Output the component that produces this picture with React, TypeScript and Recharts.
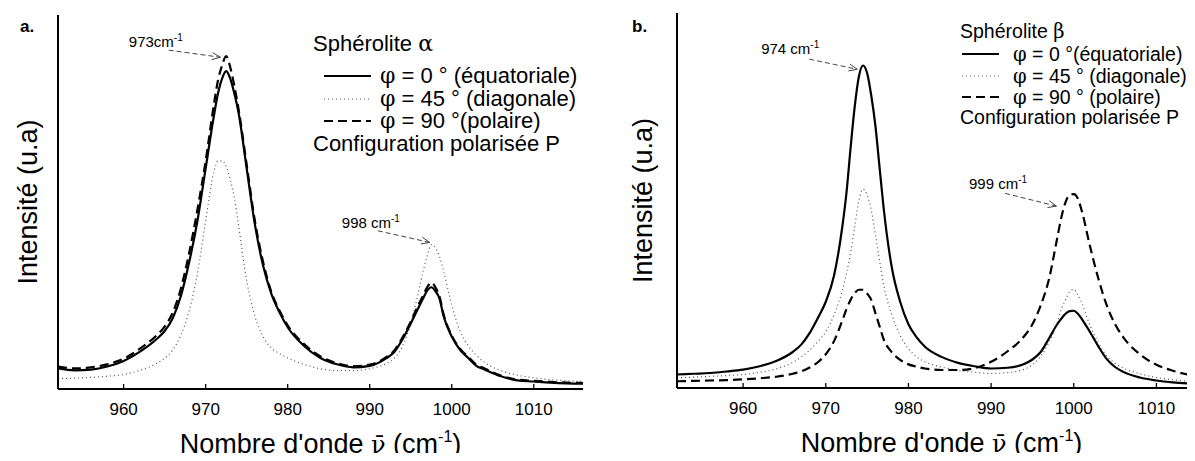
import React from 'react';
import { LineChart, Line, XAxis, YAxis, ReferenceLine } from 'recharts';

// tick values shared by both panels
const ticks = [960, 970, 980, 990, 1000, 1010];

// panel a: spherulite alpha (wavenumber, intensity as % of plot height)
const xAlpha = [952, 954, 956, 958, 960, 962, 964, 965, 966, 967, 968, 969, 970, 971, 971.5, 972, 972.5, 973, 973.5, 974, 975, 976, 977, 978, 979, 980, 982, 984, 986, 988, 990, 992, 993, 994, 995, 996, 996.5, 997, 997.5, 998, 998.5, 999, 1000, 1001, 1002, 1003, 1004, 1006, 1008, 1010, 1012, 1014, 1016];
const alpha0 = [5.5, 5.0, 5.2, 6.0, 7.5, 10.0, 13.3, 15.5, 19, 25, 34, 45, 59, 73, 79, 83, 85, 83, 79, 74, 59, 44, 33, 25.5, 20.5, 16.5, 11.5, 8.3, 6.6, 5.8, 6.2, 8.2, 9.9, 13.3, 17.5, 22, 24.2, 26.3, 27.2, 26.2, 24.2, 19.5, 14, 10.5, 8.3, 6.2, 5.2, 3.4, 2.3, 2.0, 1.7, 1.5, 1.4];
const alpha45 = [2.8, 2.9, 3.1, 3.4, 3.9, 5.0, 6.8, 8.2, 10.5, 14.5, 21, 31, 45, 58, 61, 61, 59.5, 56, 51, 44, 29, 19.5, 14, 11, 9.5, 8.3, 6.6, 5.4, 4.9, 4.9, 5.4, 6.8, 8.2, 11.5, 17.5, 26.5, 31.5, 35.5, 38.6, 37.8, 35.5, 31.5, 22.5, 15.5, 11.6, 9.0, 7.1, 4.9, 3.7, 3.0, 2.5, 2.2, 2.0];
const alpha90 = [6.0, 5.5, 5.8, 6.6, 8.1, 10.8, 14.3, 16.7, 20.5, 27, 36.5, 48, 61, 76, 82.5, 86.5, 89, 86, 81, 75, 60, 45, 34, 26, 21, 17, 12, 8.7, 6.9, 6.1, 6.5, 8.5, 10.3, 13.8, 18, 22.8, 25, 27.2, 28.5, 27.2, 24.8, 20, 14.3, 10.8, 8.6, 6.5, 5.5, 3.6, 2.5, 2.2, 1.9, 1.7, 1.6];

// panel b: spherulite beta
const xBeta = [952, 954, 956, 958, 960, 962, 964, 966, 967, 968, 969, 970, 971, 972, 972.5, 973, 973.5, 974, 974.5, 975, 975.5, 976, 976.5, 977, 978, 979, 980, 981, 982, 984, 986, 988, 990, 992, 994, 995, 996, 997, 998, 998.5, 999, 999.5, 1000, 1000.5, 1001, 1002, 1003, 1004, 1005, 1006, 1008, 1010, 1012, 1014, 1016];
const beta0 = [3.6, 3.8, 4.0, 4.4, 4.9, 5.8, 7.2, 9.6, 11.5, 14.5, 18.5, 23, 30, 43, 52, 64, 75, 83, 86, 84, 78, 70, 59, 48, 32, 23, 17, 13.5, 11, 8.3, 6.7, 5.8, 5.2, 5.4, 6.4, 7.6, 9.6, 13.2, 17, 18.5, 19.8, 20.5, 20.6, 19.8, 18.3, 14.8, 11, 7.7, 5.6, 4.3, 2.8, 2.0, 1.5, 1.2, 1.0];
const beta45 = [2.7, 2.9, 3.1, 3.3, 3.6, 4.2, 5.1, 6.8, 8.2, 10, 12.3, 15, 19.5, 26, 30.5, 36, 43, 50, 53, 51.5, 47.5, 41, 34, 27.5, 19.5, 14, 10.5, 8.3, 7, 5.6, 4.7, 4.2, 3.9, 4.1, 5.0, 6.2, 8.5, 12.2, 17.5, 21, 23.5, 25.6, 26.3, 24.8, 22.5, 16.5, 12, 8.5, 6.6, 5.3, 3.8, 2.8, 2.2, 1.8, 1.5];
const beta90 = [1.8, 1.9, 2.0, 2.1, 2.3, 2.6, 3.0, 3.8, 4.4, 5.4, 6.8, 9.0, 12.5, 18, 21, 23.5, 25.3, 26.2, 26.2, 25.2, 23.5, 20, 16.5, 13, 9.5, 7.5, 6.3, 5.7, 5.2, 4.8, 4.8, 5.3, 7.0, 9.8, 13.8, 17, 22, 29, 40, 45.5, 49.5, 51.5, 51.7, 50.5, 47, 37.5, 29, 22, 17, 13.5, 9, 6.2, 4.6, 3.5, 2.8];

const FONT = 'Arial, "Liberation Sans", Helvetica, sans-serif';
const greek = "'DejaVu Serif', 'Liberation Serif', serif";

const toRows = (xs: number[], s0: number[], s45: number[], s90: number[]) =>
  xs.map((x, i) => ({ x, s0: s0[i], s45: s45[i], s90: s90[i] }));

const alphaRows = toRows(xAlpha, alpha0, alpha45, alpha90);
const betaRows = toRows(xBeta, beta0, beta45, beta90);

const BottomTick = (props: any) => {
  const { x, y, payload } = props;
  return (
    <g>
      <line x1={x} y1={y} x2={x} y2={y - 5} stroke="#000" strokeWidth={1.3} />
      <text x={x} y={y + 26} textAnchor="middle" fontSize={17} fontFamily={FONT} fill="#000">
        {payload.value}
      </text>
    </g>
  );
};

const TopTick = (props: any) => (
  <line x1={props.x} y1={props.y} x2={props.x} y2={props.y + 5} stroke="#000" strokeWidth={1.3} />
);

const yTitle = (dx: number) => (props: any) => {
  const vb = props.viewBox;
  const cx = vb.x + vb.width / 2 + dx;
  const cy = vb.y + vb.height / 2;
  return (
    <text x={cx} y={cy} transform={`rotate(-90 ${cx} ${cy})`} textAnchor="middle" dominantBaseline="central"
      fontSize={27} fontFamily={FONT} fill="#000">
      Intensité (u.a)
    </text>
  );
};

const xTitle = (props: any) => {
  const vb = props.viewBox;
  const cx = vb.x + vb.width / 2;
  const by = vb.y + 64;
  return (
    <text x={cx} y={by} textAnchor="middle" fontSize={27} fontFamily={FONT} fill="#000">
      Nombre d'onde <tspan fontFamily={greek} fontSize={24}>ν̄</tspan> (cm
      <tspan dy={-11} fontSize={16}>-1</tspan>
      <tspan dy={11}>)</tspan>
    </text>
  );
};

// dashed arrow with its wavenumber label
const peakNote = (label: string, dxEnd: number, dyUp: number) => (props: any) => {
  const { x1, y1, x2, y2 } = props;
  const ang = Math.atan2(y2 - y1, x2 - x1);
  const len = 9;
  const spread = 0.4;
  const ax = x2 - len * Math.cos(ang - spread);
  const ay = y2 - len * Math.sin(ang - spread);
  const bx = x2 - len * Math.cos(ang + spread);
  const by = y2 - len * Math.sin(ang + spread);
  return (
    <g>
      <line x1={x1} y1={y1} x2={x2} y2={y2} stroke="#444" strokeWidth={1} strokeDasharray="5 3" />
      <polyline points={`${ax},${ay} ${x2},${y2} ${bx},${by}`} fill="none" stroke="#444" strokeWidth={1} />
      <text x={x1 + dxEnd} y={y1 - dyUp} textAnchor="end" fontSize={15} fontFamily={FONT} fill="#000">
        {label}
        <tspan dy={-6} fontSize={10}>-1</tspan>
      </text>
    </g>
  );
};

interface Note {
  from: { x: number; y: number };
  to: { x: number; y: number };
  label: string;
  dxEnd: number;
  dyUp: number;
}

interface PanelProps {
  rows: { x: number; s0: number; s45: number; s90: number }[];
  width: number;
  margin: { top: number; right: number; bottom: number; left: number };
  yAxisWidth: number;
  xAxisHeight: number;
  yTitleDx: number;
  notes: Note[];
}

const Panel: React.FC<PanelProps> = ({ rows, width, margin, yAxisWidth, xAxisHeight, yTitleDx, notes }) => (
  <LineChart width={width} height={461} data={rows} margin={margin}>
    <XAxis xAxisId="bx" dataKey="x" type="number" domain={[952, 1016]} ticks={ticks} interval={0}
      allowDataOverflow height={xAxisHeight} tickSize={0} tickMargin={0} tickLine={false}
      axisLine={{ stroke: '#000', strokeWidth: 2 }} tick={<BottomTick />} label={xTitle} />
    <XAxis xAxisId="tx" dataKey="x" type="number" orientation="top" domain={[952, 1016]} ticks={ticks}
      interval={0} allowDataOverflow height={0} tickSize={0} tickMargin={0} tickLine={false}
      axisLine={{ stroke: '#000', strokeWidth: 2 }} tick={<TopTick />} />
    <YAxis yAxisId="ly" type="number" domain={[0, 100]} width={yAxisWidth} tick={false} tickLine={false}
      axisLine={{ stroke: '#000', strokeWidth: 2 }} label={yTitle(yTitleDx)} />
    <YAxis yAxisId="ry" orientation="right" type="number" domain={[0, 100]} width={0} tick={false}
      tickLine={false} axisLine={{ stroke: '#000', strokeWidth: 2 }} />
    <Line xAxisId="bx" yAxisId="ly" type="monotone" dataKey="s45" stroke="#555" strokeWidth={1.2}
      strokeDasharray="1 3" dot={false} isAnimationActive={false} />
    <Line xAxisId="bx" yAxisId="ly" type="monotone" dataKey="s0" stroke="#000" strokeWidth={2.2}
      dot={false} isAnimationActive={false} />
    <Line xAxisId="bx" yAxisId="ly" type="monotone" dataKey="s90" stroke="#000" strokeWidth={2.2}
      strokeDasharray="9 5" dot={false} isAnimationActive={false} />
    {notes.map((n) => (
      <ReferenceLine key={n.label} xAxisId="bx" yAxisId="ly" segment={[n.from, n.to]}
        shape={peakNote(n.label, n.dxEnd, n.dyUp)} />
    ))}
  </LineChart>
);

const notesAlpha: Note[] = [
  { from: { x: 965.5, y: 90.6 }, to: { x: 971.8, y: 88.7 }, label: '973cm', dxEnd: 14, dyUp: 3 },
  { from: { x: 991.0, y: 42.3 }, to: { x: 997.3, y: 39.2 }, label: '998 cm', dxEnd: 22, dyUp: 3 },
];
const notesBeta: Note[] = [
  { from: { x: 968.0, y: 87.7 }, to: { x: 973.8, y: 85.0 }, label: '974 cm', dxEnd: 10, dyUp: 5 },
  { from: { x: 991.7, y: 51.9 }, to: { x: 997.9, y: 48.5 }, label: '999 cm', dxEnd: 22, dyUp: 4 },
];

interface LegendProps {
  x: number;
  lineX1: number;
  lineX2: number;
  textX: number;
  titleY: number;
  rowYs: number[];
  footY: number;
  fontSize: number;
  letter: string;
  rowLabels: string[];
}

const LegendBlock: React.FC<LegendProps> = ({ x, lineX1, lineX2, textX, titleY, rowYs, footY, fontSize, letter, rowLabels }) => {
  const styles = [
    { stroke: '#000', strokeWidth: 2.2, dash: undefined },
    { stroke: '#555', strokeWidth: 1.2, dash: '1 3' },
    { stroke: '#000', strokeWidth: 2.2, dash: '9 5' },
  ];
  return (
    <g fontFamily={FONT} fontSize={fontSize} fill="#000">
      <text x={x} y={titleY}>
        Sphérolite <tspan fontFamily={greek}>{letter}</tspan>
      </text>
      {rowYs.map((y, i) => (
        <g key={i}>
          <line x1={lineX1} y1={y - 7} x2={lineX2} y2={y - 7} stroke={styles[i].stroke}
            strokeWidth={styles[i].strokeWidth} strokeDasharray={styles[i].dash} />
          <text x={textX} y={y}>
            <tspan fontFamily={greek}>φ</tspan>
            {rowLabels[i]}
          </text>
        </g>
      ))}
      <text x={x} y={footY}>Configuration polarisée P</text>
    </g>
  );
};

export default function App() {
  return (
    <div style={{ position: 'relative', width: 1195, height: 461, margin: -8, overflow: 'hidden', background: '#fff', fontFamily: FONT }}>
      <div style={{ position: 'absolute', left: 0, top: 0 }}>
        <Panel rows={alphaRows} width={600} margin={{ top: 15, right: 17, bottom: 0, left: 0 }}
          yAxisWidth={58} xAxisHeight={72} yTitleDx={-1} notes={notesAlpha} />
      </div>
      <div style={{ position: 'absolute', left: 600, top: 0 }}>
        <Panel rows={betaRows} width={620} margin={{ top: 13, right: 14, bottom: 0, left: 0 }}
          yAxisWidth={77} xAxisHeight={73} yTitleDx={4.5} notes={notesBeta} />
      </div>
      <svg width={1195} height={461} style={{ position: 'absolute', left: 0, top: 0, pointerEvents: 'none' }}>
        <text x={20} y={32} fontFamily={FONT} fontSize={17} fontWeight="bold">a.</text>
        <text x={632} y={32} fontFamily={FONT} fontSize={17} fontWeight="bold">b.</text>
        <LegendBlock x={313} lineX1={324} lineX2={371} textX={380} titleY={51} rowYs={[83, 106, 128]} footY={151}
          fontSize={22} letter="α" rowLabels={[' = 0 ° (équatoriale)', ' = 45 ° (diagonale)', ' = 90 °(polaire)']} />
        <LegendBlock x={960} lineX1={962} lineX2={999} textX={1013} titleY={38} rowYs={[61, 83, 104]} footY={124}
          fontSize={19.5} letter="β" rowLabels={[' = 0 °(équatoriale)', ' = 45 ° (diagonale)', ' = 90 ° (polaire)']} />
      </svg>
    </div>
  );
}
